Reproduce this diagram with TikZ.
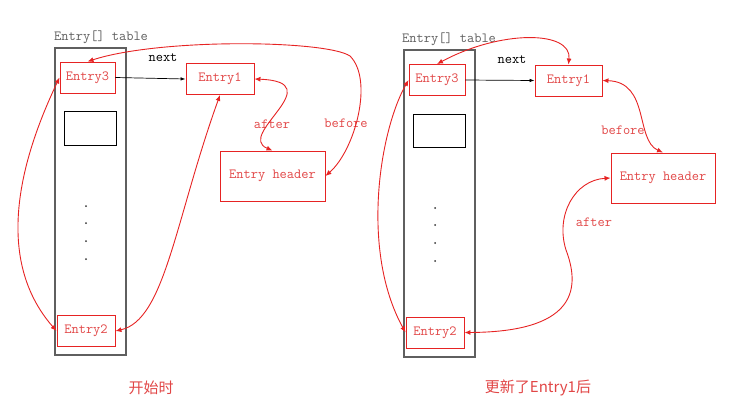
\documentclass[tikz,border=0pt]{standalone}
\usepackage{fontspec}
\newfontfamily\cjk{Noto Sans CJK SC}
\usetikzlibrary{arrows.meta}
\definecolor{entryred}{RGB}{230,35,35}
\definecolor{labelred}{RGB}{225,70,70}
\definecolor{tablegray}{RGB}{95,95,95}
\tikzset{
  entry/.style={draw=entryred,line width=0.9pt,text=labelred,font=\ttfamily\fontsize{14}{16}\selectfont,inner sep=0pt,minimum height=31pt},
  tablebox/.style={draw=tablegray,line width=1.3pt,minimum width=71pt,minimum height=307pt,inner sep=0pt},
  slot/.style={draw=black,line width=0.8pt,minimum width=52pt,minimum height=34pt,inner sep=0pt},
  link/.style={entryred,line width=0.9pt,{Latex[length=6pt,width=5pt]}-{Latex[length=6pt,width=5pt]}},
  nextlink/.style={black,line width=0.7pt,-{Latex[length=5pt,width=3.5pt]}},
  lbl/.style={font=\ttfamily\fontsize{14}{16}\selectfont,inner sep=0pt},
  dotmark/.style={fill=black!80,circle,inner sep=0pt,minimum size=2pt},
  caption/.style={font=\cjk\fontsize{15}{17}\selectfont,text=labelred},
}
\begin{document}
\begin{tikzpicture}[x=1pt,y=-1pt]
        \useasboundingbox (0,0) rectangle (735,415);
        % before the update
        \node[tablebox] (tblL) at (90.5,201.5) {};
        \node[lbl,text=tablegray,anchor=west] (tblLname) at (54,37) {Entry[] table};
        \node[entry,minimum width=55pt] (e3L) at (87.5,77.5) {Entry3};
        \node[slot] (slotL) at (90,128) {};
        \foreach \y [count=\i] in {206,223,241,259}
            \node[dotmark] (dotL\i) at (86,\y) {};
        \node[entry,minimum width=58pt] (e2L) at (86,331) {Entry2};
        \node[entry,minimum width=68pt] (e1L) at (220,79) {Entry1};
        \node[entry,minimum width=105pt,minimum height=50pt] (hdL) at (272.5,176) {Entry header};
        \node[lbl] (nextL) at (163,58) {next};
        \node[lbl,text=labelred] (afterL) at (272,124) {after};
        \node[lbl,text=labelred] (beforeL) at (346,123) {before};
        \node[caption] (capL) at (151,388) {开始时};
        \draw[nextlink] (e3L.east) -- (e1L.west);
        \draw[link] (e1L.east) .. controls (332,82) and (235,135) .. (hdL.north);
        \draw[link] (hdL.east) .. controls (355,150) and (374,80) .. (350,56) .. controls (326,40) and (160,38) .. (e3L.north);
        \draw[link] (e3L.west) .. controls (25,150) and (-10,255) .. (e2L.west);
        \draw[link] (e1L.south) .. controls (175,220) and (165,320) .. (e2L.east);
        % after the update
        \node[tablebox] (tblR) at (439.5,203.5) {};
        \node[lbl,text=tablegray,anchor=west] (tblRname) at (402,39) {Entry[] table};
        \node[entry,minimum width=56pt] (e3R) at (437,80) {Entry3};
        \node[slot,minimum height=33pt] (slotR) at (439,130.5) {};
        \foreach \y [count=\i] in {208,225,243,261}
            \node[dotmark] (dotR\i) at (435,\y) {};
        \node[entry,minimum width=58pt] (e2R) at (435,332.5) {Entry2};
        \node[entry,minimum width=67pt] (e1R) at (568.5,80.5) {Entry1};
        \node[entry,minimum width=104pt,minimum height=50pt] (hdR) at (663,178) {Entry header};
        \node[lbl] (nextR) at (512,60) {next};
        \node[lbl,text=labelred] (beforeR) at (623,130) {before};
        \node[lbl,text=labelred] (afterR) at (594,222) {after};
        \node[caption] (capR) at (538,388) {更新了Entry1后};
        \draw[nextlink] (e3R.east) -- (e1R.west);
        \draw[link] (e1R.north) .. controls (572,30) and (500,30) .. (e3R.north);
        \draw[link] (e1R.east) .. controls (650,82) and (635,140) .. (hdR.north);
        \draw[link] (hdR.west) .. controls (575,180) and (555,215) .. (566,250) .. controls (582,292) and (572,332) .. (e2R.east);
        \draw[link] (e3R.west) .. controls (380,130) and (360,250) .. (e2R.west);
\end{tikzpicture}
\end{document}
